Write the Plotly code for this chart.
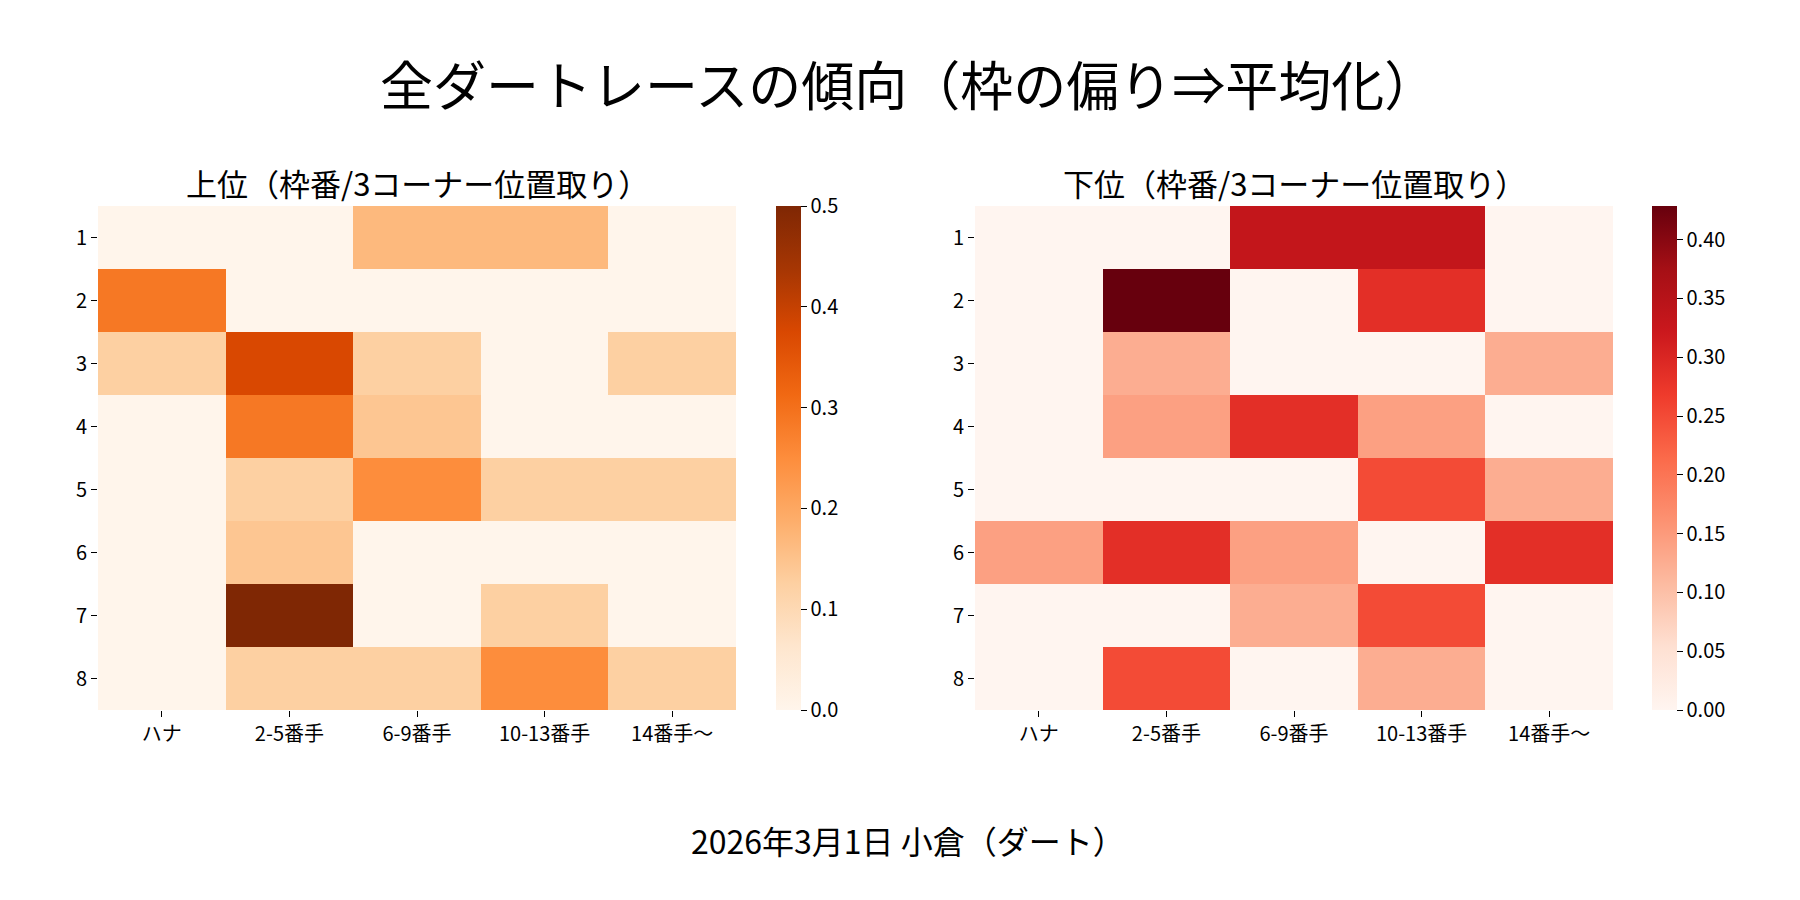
"""Dirt race frame/position heatmaps (upper vs lower finishers)."""
import plotly.graph_objects as go

FONT = "Noto Sans CJK JP, Noto Sans, sans-serif"

# --- data ---
positions = ["ハナ", "2-5番手", "6-9番手", "10-13番手", "14番手〜"]
frames = ["1", "2", "3", "4", "5", "6", "7", "8"]

upper = [
    [0.0, 0.0, 0.167, 0.167, 0.0],
    [0.286, 0.0, 0.0, 0.0, 0.0],
    [0.125, 0.375, 0.125, 0.0, 0.125],
    [0.0, 0.286, 0.143, 0.0, 0.0],
    [0.0, 0.125, 0.25, 0.125, 0.125],
    [0.0, 0.143, 0.0, 0.0, 0.0],
    [0.0, 0.5, 0.0, 0.125, 0.0],
    [0.0, 0.125, 0.125, 0.25, 0.125],
]
lower = [
    [0.0, 0.0, 0.333, 0.333, 0.0],
    [0.0, 0.4286, 0.0, 0.286, 0.0],
    [0.0, 0.125, 0.0, 0.0, 0.125],
    [0.0, 0.143, 0.286, 0.143, 0.0],
    [0.0, 0.0, 0.0, 0.25, 0.125],
    [0.143, 0.286, 0.143, 0.0, 0.286],
    [0.0, 0.0, 0.125, 0.25, 0.0],
    [0.0, 0.25, 0.0, 0.125, 0.0],
]

title = "全ダートレースの傾向（枠の偏り⇒平均化）"
sub_titles = ["上位（枠番/3コーナー位置取り）", "下位（枠番/3コーナー位置取り）"]
footer = "2026年3月1日 小倉（ダート）"

up_ticks = [0.0, 0.1, 0.2, 0.3, 0.4, 0.5]
low_ticks = [0.0, 0.05, 0.10, 0.15, 0.20, 0.25, 0.30, 0.35, 0.40]

# --- figure ---
W, H = 1800, 900
Y_DOM = [1 - 702 / H, 1 - 198 / H]
X_DOM = [[90 / W, 728 / W], [967 / W, 1605 / W]]
CB_X = [768 / W, 1644 / W]
TICK_FONT = dict(size=20, color="black")

fig = go.Figure()


def cbar(x, ticks, fmt):
    return dict(
        x=x, xanchor="left", xref="paper",
        y=Y_DOM[0], yanchor="bottom", len=Y_DOM[1] - Y_DOM[0], lenmode="fraction",
        thickness=25, outlinewidth=0, xpad=0, ypad=0,
        tickvals=ticks, tickformat=fmt, ticks="outside", ticklen=6,
        tickcolor="black", tickfont=TICK_FONT,
    )


fig.add_trace(go.Heatmap(
    z=upper, x=positions, y=frames, colorscale="Oranges",
    zmin=0, zmax=max(max(r) for r in upper),
    colorbar=cbar(CB_X[0], up_ticks, ".1f"),
    xaxis="x", yaxis="y",
))
fig.add_trace(go.Heatmap(
    z=lower, x=positions, y=frames, colorscale="Reds",
    zmin=0, zmax=max(max(r) for r in lower),
    colorbar=cbar(CB_X[1], low_ticks, ".2f"),
    xaxis="x2", yaxis="y2",
))

axis_common = dict(showgrid=False, zeroline=False, showline=False,
                   ticks="outside", ticklen=6, tickcolor="black",
                   tickfont=TICK_FONT)

fig.update_layout(
    width=W, height=H,
    font=dict(family=FONT, color="black"),
    paper_bgcolor="white", plot_bgcolor="white",
    margin=dict(l=0, r=0, t=0, b=0, autoexpand=False),
    xaxis=dict(domain=X_DOM[0], anchor="y", **axis_common),
    yaxis=dict(domain=Y_DOM, anchor="x", autorange="reversed", **axis_common),
    xaxis2=dict(domain=X_DOM[1], anchor="y2", **axis_common),
    yaxis2=dict(domain=Y_DOM, anchor="x2", autorange="reversed", **axis_common),
)

fig.add_annotation(text=title, x=0.5, y=1 - 75 / H, xref="paper", yref="paper",
                   showarrow=False, font=dict(size=53), xanchor="center", yanchor="middle")
for dom, t in zip(X_DOM, sub_titles):
    fig.add_annotation(text=t, x=(dom[0] + dom[1]) / 2, y=1 - 175 / H,
                       xref="paper", yref="paper", showarrow=False,
                       font=dict(size=31), xanchor="center", yanchor="middle")
fig.add_annotation(text=footer, x=0.5, y=1 - 832 / H, xref="paper", yref="paper",
                   showarrow=False, font=dict(size=32), xanchor="center", yanchor="middle")

fig.write_html("out.html")
